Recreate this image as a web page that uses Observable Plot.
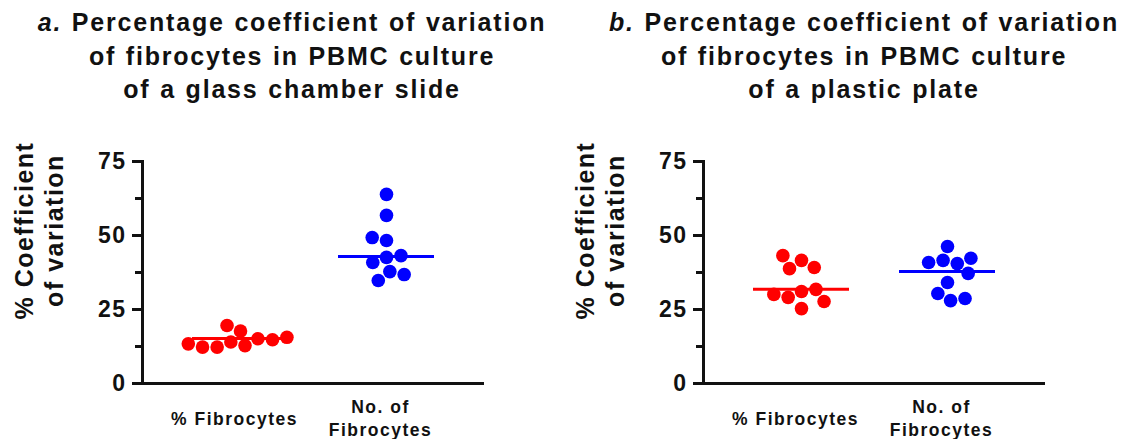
<!DOCTYPE html>
<html><head><meta charset="utf-8">
<script src="https://cdn.jsdelivr.net/npm/d3@7"></script>
<script src="https://cdn.jsdelivr.net/npm/@observablehq/plot@0.6"></script>
<style>
body{margin:0;background:#fff;font-family:"Liberation Sans",Arial,sans-serif;}
#wrap{position:relative;width:1143px;height:439px;overflow:hidden;}
.title{position:absolute;top:0;width:800px;height:110px;box-sizing:border-box;padding-top:6px;text-align:center;font-weight:bold;font-size:25px;line-height:33.5px;letter-spacing:1.8px;word-spacing:1px;color:#111;white-space:nowrap;}
.svgbox{position:absolute;top:110px;}
</style></head><body>
<div id="wrap"></div>
<script>
// ---- data ----
const categories = ["% Fibrocytes", "No. of\nFibrocytes"];
const panelLetters = ["a.", "b."];
const titleLine1 = "Percentage coefficient of variation";
const titleLine2 = "of fibrocytes in PBMC culture";
const titleLine3 = ["of a glass chamber slide", "of a plastic plate"];
const yTicks = [0, 25, 50, 75];
const yMinorTicks = [12.5, 37.5, 62.5];
const yLabel = "% Coefficient\nof variation";

// panel a: glass chamber slide
const glassPct = [17.7, 19.6, 14.0, 12.8, 15.1, 12.3, 14.8, 12.3, 15.6, 13.4];
const glassNum = [63.9, 56.8, 48.3, 49.3, 42.6, 40.9, 43.2, 37.8, 34.8, 36.8];
const glassMedians = [15.2, 42.9];
// panel b: plastic plate
const plasticPct = [41.6, 38.8, 39.2, 43.2, 31.1, 29.1, 31.8, 27.7, 30.1, 25.3];
const plasticNum = [46.3, 41.6, 40.5, 40.9, 42.3, 37.2, 34.1, 30.4, 28.0, 28.7];
const plasticMedians = [31.8, 37.8];

const colors = ["#ff0000", "#0000ff"];
const FONT = '"Liberation Sans", Arial, sans-serif';
const SHIFT = 25;   // group offset to the right inside each facet
const EXTEND = 50;  // x axis line extends beyond last facet

function makePanel(pctVals, numVals, medians, width, marginLeft, marginRight) {
  const rows = [
    ...pctVals.map(v => ({cat: categories[0], value: v})),
    ...numVals.map(v => ({cat: categories[1], value: v}))
  ];
  const meds = categories.map((c, i) => ({cat: c, value: medians[i]}));
  return Plot.plot({
    width, height: 329,
    marginTop: 51, marginBottom: 56, marginLeft, marginRight,
    style: `font-family:${FONT};color:#111;background:transparent;letter-spacing:1.5px;overflow:visible;`,
    fx: {domain: categories, paddingInner: 0, paddingOuter: 0, round: false, axis: null, label: null},
    y: {domain: [0, 75], axis: null},
    color: {domain: categories, range: colors},
    marks: [
      Plot.frame({anchor: "left", facetAnchor: "left", stroke: "#111", strokeWidth: 3}),
      Plot.ruleY([0], {stroke: "#111", strokeWidth: 3, insetLeft: -1.5, insetRight: -EXTEND}),
      Plot.axisY({ticks: yTicks, tickSize: 10, tickPadding: 6, fontSize: 23, fontWeight: "bold", strokeWidth: 3, label: null}),
      Plot.axisY({ticks: yMinorTicks, tickSize: 7, strokeWidth: 3, tickFormat: () => "", label: null}),
      Plot.tickY(meds, {fx: "cat", y: "value", stroke: "cat", strokeWidth: 3, insetLeft: 25, insetRight: 25, dx: SHIFT}),
      Plot.dot(rows, Plot.dodgeX("middle", {fx: "cat", y: "value", fill: "cat", r: 6.8, padding: 0, dx: SHIFT})),
      Plot.axisFx({anchor: "bottom", tickSize: 0, tickPadding: 34, dx: SHIFT - 6, lineAnchor: "middle", lineHeight: 1.28, fontSize: 17.5, fontWeight: "bold", label: null}),
      Plot.text([yLabel], {facetAnchor: "left", frameAnchor: "left", text: d => d, rotate: -90, dx: -104, dy: -42,
        fontSize: 25, fontWeight: "bold", lineHeight: 1.2, textAnchor: "middle", lineAnchor: "middle", fill: "#111"})
    ]
  });
}

const wrap = document.getElementById("wrap");
function addTitle(i, center) {
  const t = document.createElement("div");
  t.className = "title";
  t.style.left = (center - 400) + "px";
  const it = document.createElement("i");
  it.textContent = panelLetters[i];
  t.appendChild(it);
  t.appendChild(document.createTextNode(" " + titleLine1));
  t.appendChild(document.createElement("br"));
  t.appendChild(document.createTextNode(titleLine2));
  t.appendChild(document.createElement("br"));
  t.appendChild(document.createTextNode(titleLine3[i]));
  wrap.appendChild(t);
}
addTitle(0, 292);
addTitle(1, 864);

const boxA = document.createElement("div");
boxA.className = "svgbox"; boxA.style.left = "0px";
boxA.appendChild(makePanel(glassPct, glassNum, glassMedians, 560, 142, 126));
wrap.appendChild(boxA);

const boxB = document.createElement("div");
boxB.className = "svgbox"; boxB.style.left = "560px";
boxB.appendChild(makePanel(plasticPct, plasticNum, plasticMedians, 583, 143, 148));
wrap.appendChild(boxB);
</script>
</body></html>
